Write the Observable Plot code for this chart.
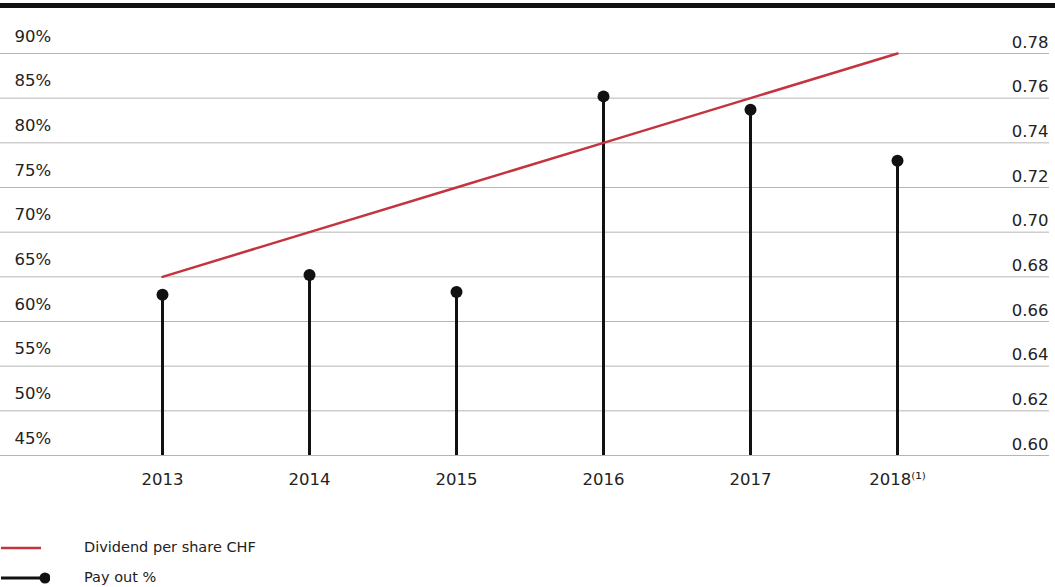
<!DOCTYPE html>
<html>
<head>
<meta charset="utf-8">
<script src="https://cdn.jsdelivr.net/npm/d3@7"></script>
<script src="https://cdn.jsdelivr.net/npm/@observablehq/plot@0.6"></script>
<style>
  body { margin: 0; background: #fff; font-family: "DejaVu Sans", sans-serif; color: #222; }
  #wrap { position: relative; width: 1055px; height: 587px; overflow: hidden; }
  #topline { position: absolute; left: 0; top: 3px; width: 1055px; height: 0; border-top: 5px solid #111; }
  #chart { position: absolute; left: 0; top: 0; }
  .legend { position: absolute; left: 0; display: flex; align-items: center; font-size: 14.5px; color: #222; }
  .legend svg { margin-right: 34px; }
</style>
</head>
<body>
<div id="wrap">
  <div id="chart"></div>
  <div id="topline"></div>
  <div class="legend" style="top:537px"><svg width="50" height="20"><line x1="1" x2="41" y1="11" y2="11" stroke="#c4343f" stroke-width="2.5"/></svg>Dividend per share CHF</div>
  <div class="legend" style="top:567px"><svg width="50" height="20"><line x1="1" x2="44" y1="11" y2="11" stroke="#111" stroke-width="3"/><circle cx="45" cy="11" r="5.5" fill="#111"/></svg>Pay out %</div>
</div>
<script>
const years = ["2013", "2014", "2015", "2016", "2017", "2018"];
const yearLabels = ["2013", "2014", "2015", "2016", "2017", "2018⁽¹⁾"];
const payout = [63, 65.2, 63.3, 85.2, 83.7, 78];
const dividend = [0.68, 0.70, 0.72, 0.74, 0.76, 0.78];
const pctTicks = [45, 50, 55, 60, 65, 70, 75, 80, 85, 90];
const divTicks = [0.60, 0.62, 0.64, 0.66, 0.68, 0.70, 0.72, 0.74, 0.76, 0.78];

// map dividend (right axis 0.60–0.78) onto the percent axis (45–90)
const divToPct = v => 45 + (v - 0.60) / (0.78 - 0.60) * 45;

const payData = years.map((y, i) => ({year: y, value: payout[i]}));
const divData = years.map((y, i) => ({year: y, value: divToPct(dividend[i])}));

const chart = Plot.plot({
  width: 1055,
  height: 510,
  marginLeft: 0,
  marginRight: 6,
  marginTop: 0,
  marginBottom: 30,
  style: {fontFamily: "'DejaVu Sans', sans-serif", color: "#222", background: "transparent"},
  x: {type: "point", domain: years, range: [160, 899], padding: 0, axis: null},
  y: {domain: [45, 90], range: [455, 53], axis: null},
  marks: [
    Plot.ruleY(pctTicks, {stroke: "#b5b5b5", strokeWidth: 1}),
    Plot.text(pctTicks, {y: d => d, text: d => d + "%", frameAnchor: "left", dx: 14, dy: -17, textAnchor: "start", fontSize: 16.5, fill: "#222"}),
    Plot.text(divTicks, {y: d => divToPct(d), text: d => d.toFixed(2), frameAnchor: "right", dx: -1, dy: -11, textAnchor: "end", fontSize: 16.5, fill: "#222"}),
    Plot.ruleX(payData, {x: "year", y1: 45, y2: "value", stroke: "#111", strokeWidth: 3}),
    Plot.line(divData, {x: "year", y: "value", stroke: "#c4343f", strokeWidth: 2.5}),
    Plot.dot(payData, {x: "year", y: "value", r: 6, fill: "#111", stroke: "none"}),
    Plot.text(years, {x: d => d, text: (d, i) => yearLabels[i], frameAnchor: "bottom", dy: 4, fontSize: 16.5, fill: "#222"})
  ]
});
document.getElementById("chart").appendChild(chart);
</script>
</body>
</html>
